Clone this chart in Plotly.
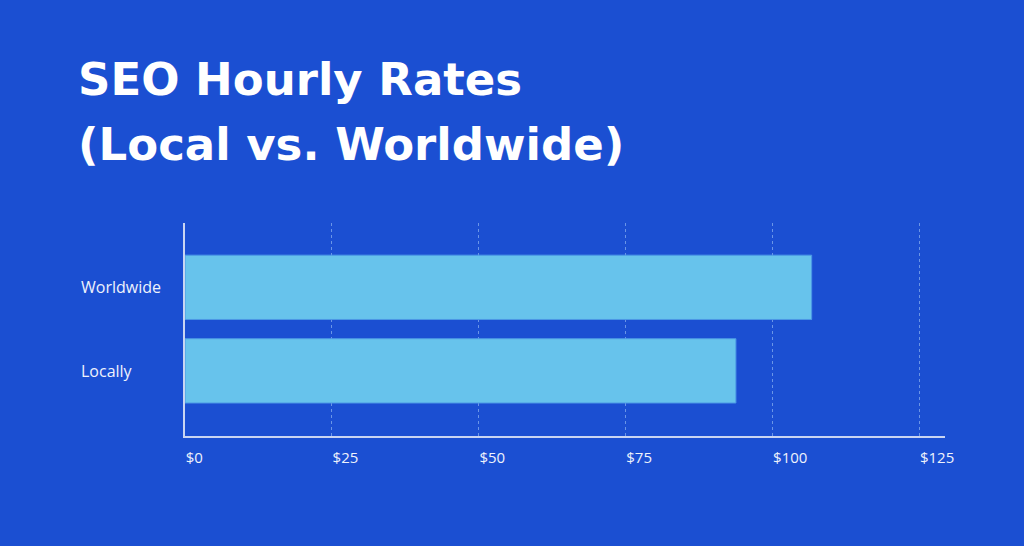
import plotly.graph_objects as go

# Data: {{{
categories = ['Locally', 'Worldwide']
hourly_rates = [93.8, 106.7]
tick_values = [0, 25, 50, 75, 100, 125]
tick_labels = ['$0', '$25', '$50', '$75', '$100', '$125']
title_lines = ['SEO Hourly Rates', '(Local vs. Worldwide)']
#}}}

bg = '#1b4fd2'
bar_color = '#67c3ec'
text_color = '#eef2fc'
label_font = 'Open Sans, Inter, sans-serif'

fig = go.Figure()
# Bars: {{{
fig.add_bar(
    x=hourly_rates,
    y=categories,
    orientation='h',
    width=0.77,
    marker=dict(color=bar_color, line=dict(color='#4c98e6', width=1)),
    hoverinfo='skip',
)
#}}}
# Left aligned category labels: {{{
for cat in categories:
    fig.add_annotation(
        x=-0.14, xref='paper', xanchor='left',
        y=cat, yref='y', yanchor='middle',
        text=cat, showarrow=False,
        font=dict(family=label_font, size=16, color=text_color),
    )
#}}}
# Title, one annotation per line to get the wider line spacing: {{{
for line, ypos in zip(title_lines, [1.676, 1.368]):
    fig.add_annotation(
        x=-0.143, xref='paper', xanchor='left',
        y=ypos, yref='paper', yanchor='middle',
        text=line, showarrow=False, align='left',
        font=dict(family='DejaVu Sans, sans-serif', size=45, color='white', weight='bold'),
    )
#}}}
# Layout: {{{
fig.update_layout(
    width=1024,
    height=546,
    paper_bgcolor=bg,
    plot_bgcolor=bg,
    showlegend=False,
    margin=dict(l=185, r=79, t=223, b=110),
    xaxis=dict(
        range=[0, 129.4],
        tickvals=tick_values,
        ticktext=tick_labels,
        ticklabelposition='outside right',
        ticks='',
        ticklabelstandoff=7,
        showgrid=True,
        gridcolor='rgba(140,180,240,0.7)',
        griddash='dot',
        gridwidth=1,
        zeroline=False,
        showline=True,
        linecolor='#c9d5f2',
        linewidth=1.5,
        tickfont=dict(family=label_font, size=15, color=text_color),
    ),
    yaxis=dict(
        range=[-0.78, 1.77],
        showticklabels=False,
        ticks='',
        showgrid=False,
        zeroline=False,
        showline=True,
        linecolor='#c9d5f2',
        linewidth=1.5,
    ),
)
#}}}
fig.write_html('out.html', config={'displayModeBar': False},
               post_script="document.body.style.margin='0';")
